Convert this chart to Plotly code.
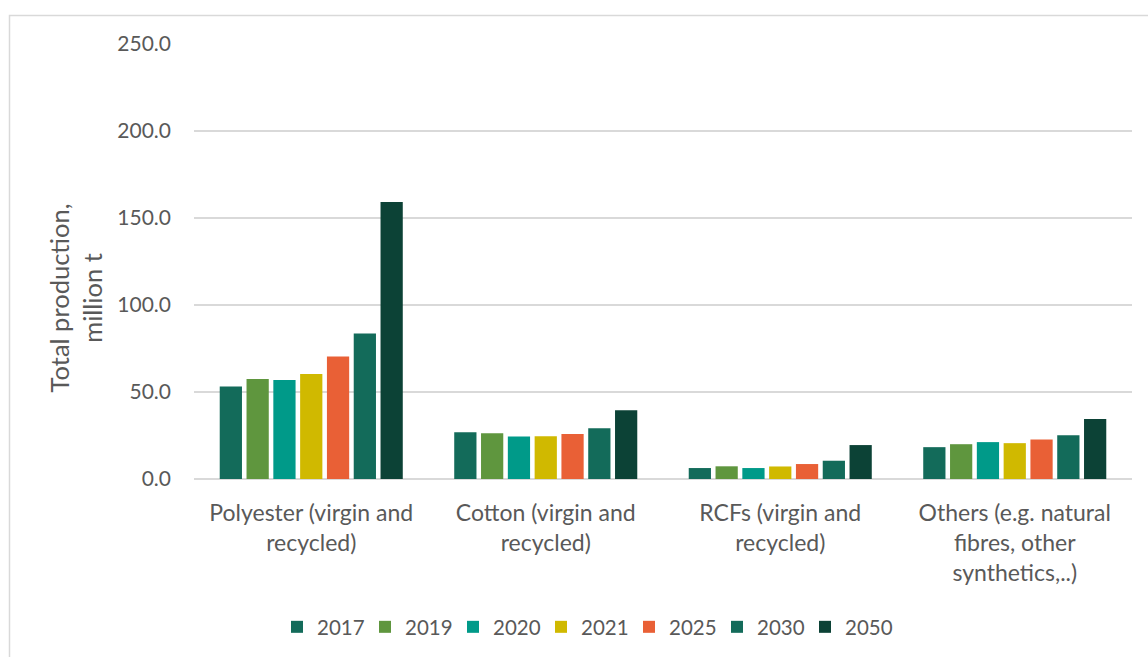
import plotly.graph_objects as go

# Fibre categories (x axis) and scenario years (series)
categories = [
    "Polyester (virgin and<br>recycled)",
    "Cotton (virgin and<br>recycled)",
    "RCFs (virgin and<br>recycled)",
    "Others (e.g. natural<br>fibres, other<br>synthetics,..)",
]
years = ["2017", "2019", "2020", "2021", "2025", "2030", "2050"]

# Total production per category, million t
prod_2017 = [53.1, 26.9, 6.3, 18.3]
prod_2019 = [57.5, 26.3, 7.3, 20.0]
prod_2020 = [56.9, 24.4, 6.3, 21.2]
prod_2021 = [60.3, 24.6, 7.2, 20.6]
prod_2025 = [70.4, 25.9, 8.6, 22.7]
prod_2030 = [83.6, 29.2, 10.5, 25.2]
prod_2050 = [159.2, 39.5, 19.5, 34.5]

series = [prod_2017, prod_2019, prod_2020, prod_2021, prod_2025, prod_2030, prod_2050]
colors = ["#136B5A", "#5F963E", "#009A89", "#D0B900", "#E96036", "#136B5A", "#0C4236"]

y_ticks = [0, 50, 100, 150, 200, 250]

FONT = "Lato"
TXT = "#595959"
GRID = "#D9D9D9"

W, H = 1148, 657
ML, MR, MT, MB = 194, 16, 44, 177
PW, PH = W - ML - MR, H - MT - MB


def px_x(p):
    return (p - ML) / PW


def px_y(p):
    return (H - MB - p) / PH


fig = go.Figure()
for yr, vals, col in zip(years, series, colors):
    fig.add_trace(go.Bar(
        x=categories, y=vals, name=yr,
        marker=dict(color=col, line=dict(width=0)),
    ))

fig.update_layout(
    width=W, height=H,
    margin=dict(l=ML, r=MR, t=MT, b=MB, pad=0),
    paper_bgcolor="white", plot_bgcolor="white",
    barmode="group", bargap=0.2, bargroupgap=0.17,
    font=dict(family=FONT, size=20, color=TXT),
    showlegend=True,
    legend=dict(
        orientation="h", x=px_x(585), y=px_y(627),
        xanchor="center", yanchor="middle",
        font=dict(family=FONT, size=20.5, color=TXT),
        itemwidth=30, tracegroupgap=0,
        entrywidth=43, entrywidthmode="pixels",
    ),
    xaxis=dict(
        showgrid=False, showline=False, ticks="",
        tickfont=dict(family=FONT, size=23, color=TXT),
        ticklabelstandoff=18,
    ),
    yaxis=dict(
        range=[0, 250], tickvals=y_ticks, tickformat=".1f",
        showgrid=True, gridcolor=GRID, gridwidth=1.5,
        zeroline=True, zerolinecolor=GRID, zerolinewidth=1.5,
        showline=False, ticks="",
        tickfont=dict(family=FONT, size=21, color=TXT),
        ticklabelstandoff=22,
    ),
    annotations=[dict(
        text="Total production,<br>million t",
        xref="paper", yref="paper", x=px_x(75), y=px_y(299),
        xanchor="center", yanchor="middle", textangle=-90,
        showarrow=False, font=dict(family=FONT, size=25.5, color=TXT),
    )],
    shapes=[dict(
        type="rect", xref="paper", yref="paper",
        x0=px_x(9.5), x1=px_x(1160), y0=px_y(700), y1=px_y(15.5),
        line=dict(color=GRID, width=1.5), fillcolor="rgba(0,0,0,0)",
        layer="below",
    )],
)

fig.write_html("out.html", include_plotlyjs=True, config={"displayModeBar": False})
